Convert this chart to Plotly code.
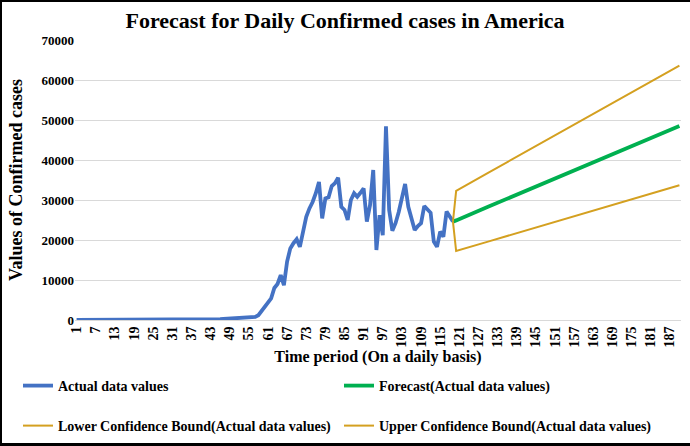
import plotly.graph_objects as go

# ---- data ----
actual_days = list(range(1, 120))
actual_values = [
    0, 0, 0, 0, 1, 0, 0, 0, 0, 0,
    1, 0, 0, 0, 0, 1, 0, 0, 1, 2,
    0, 1, 3, 0, 2, 1, 5, 3, 4, 6,
    8, 10, 12, 15, 18, 20, 25, 35, 40, 55,
    70, 100, 120, 150, 180, 210, 250, 280, 330, 380,
    430, 480, 560, 640, 700, 720, 760, 1200,
    2300, 3500, 4600, 5400, 8000, 9000, 11200, 8700, 14600, 17900,
    19200, 20200, 18300, 22100, 25800, 27900, 29500, 31700, 34500, 25400,
    30400, 30700, 33500, 34200, 35600, 28300, 27500, 25000, 30000, 31700,
    30800, 31800, 32900, 24600, 28700, 37500, 17500, 26200, 21200, 48400,
    27500, 22300, 24200, 27000, 31000, 34000, 28300, 25000, 22500, 23500,
    24200, 28500, 27500, 26800, 19600, 18300, 22100, 20800, 27100, 25800,
    24600,
]

forecast_days = [119, 120, 130, 140, 150, 160, 170, 180, 190]
forecast_values = [24600, 24900, 28300, 31700, 35000, 38400, 41800, 45200, 48500]
lower_values = [24600, 17250, 19600, 21950, 24300, 26650, 29000, 31350, 33700]
upper_values = [24600, 32300, 36770, 41240, 45710, 50190, 54660, 59130, 63600]

x_tick_vals = list(range(1, 190, 6))
y_tick_vals = [0, 10000, 20000, 30000, 40000, 50000, 60000, 70000]

# ---- styles ----
SERIF = "Liberation Serif, Times New Roman, serif"
BLUE = "#4472C4"
GREEN = "#00B050"
GOLD = "#D4A020"

fig = go.Figure()
fig.add_trace(go.Scatter(x=actual_days, y=actual_values, mode="lines",
                         name="Actual data values",
                         line=dict(color=BLUE, width=3.8), legend="legend"))
fig.add_trace(go.Scatter(x=forecast_days, y=forecast_values, mode="lines",
                         name="Forecast(Actual data values)",
                         line=dict(color=GREEN, width=3.8), legend="legend"))
fig.add_trace(go.Scatter(x=forecast_days, y=lower_values, mode="lines",
                         name="Lower Confidence Bound(Actual data values)",
                         line=dict(color=GOLD, width=2), legend="legend2"))
fig.add_trace(go.Scatter(x=forecast_days, y=upper_values, mode="lines",
                         name="Upper Confidence Bound(Actual data values)",
                         line=dict(color=GOLD, width=2), legend="legend2"))

L, R, T, B = 75, 9, 40, 126
W, H = 690, 446
pw, ph = W - L - R, H - T - B


def px_x(px):
    return (px - L) / pw


def px_y(py):
    return (H - B - py) / ph


legend_common = dict(orientation="h", xanchor="left", yanchor="middle",
                     entrywidth=276, entrywidthmode="pixels",
                     font=dict(family=SERIF, size=14, color="black", weight="bold"),
                     bgcolor="rgba(0,0,0,0)", itemwidth=30)

fig.update_layout(
    width=W, height=H,
    margin=dict(l=L, r=R, t=T, b=B, autoexpand=False),
    paper_bgcolor="white", plot_bgcolor="white",
    title=dict(text="Forecast for Daily Confirmed cases in America",
               x=0.5, xref="container", xanchor="center", y=1 - 20 / H, yanchor="middle",
               font=dict(family=SERIF, size=22, color="black", weight="bold")),
    xaxis=dict(range=[0.5, 190.5], tickmode="array", tickvals=x_tick_vals,
               tickangle=-90, showgrid=False, zeroline=False,
               showline=True, linecolor="#D9D9D9", linewidth=1, ticks="",
               tickfont=dict(family=SERIF, size=14, color="black", weight="bold"),
               title=dict(text="Time period (On a daily basis)", standoff=4,
                          font=dict(family=SERIF, size=16, color="black", weight="bold"))),
    yaxis=dict(range=[0, 70000], tickmode="array", tickvals=y_tick_vals,
               showgrid=True, gridcolor="#D9D9D9", gridwidth=1, zeroline=False,
               ticks="", tickformat="d",
               tickfont=dict(family=SERIF, size=13, color="black", weight="bold"),
               title=dict(text="Values of Confirmed cases", standoff=14,
                          font=dict(family=SERIF, size=18, color="black", weight="bold"))),
    legend=dict(x=px_x(18), y=px_y(386), **legend_common),
    legend2=dict(x=px_x(18), y=px_y(426), **legend_common),
    shapes=[
        dict(type="line", xref="paper", yref="paper", x0=px_x(1), x1=px_x(1),
             y0=px_y(0), y1=px_y(H), line=dict(color="black", width=2)),
        dict(type="line", xref="paper", yref="paper", x0=px_x(0), x1=px_x(W),
             y0=px_y(1), y1=px_y(1), line=dict(color="black", width=2)),
        dict(type="line", xref="paper", yref="paper", x0=px_x(0), x1=px_x(W),
             y0=px_y(444.5), y1=px_y(444.5), line=dict(color="black", width=3)),
    ],
)

fig.write_html("out.html", config={"displayModeBar": False},
               post_script="document.body.style.margin='0';document.body.style.overflow='hidden';")
